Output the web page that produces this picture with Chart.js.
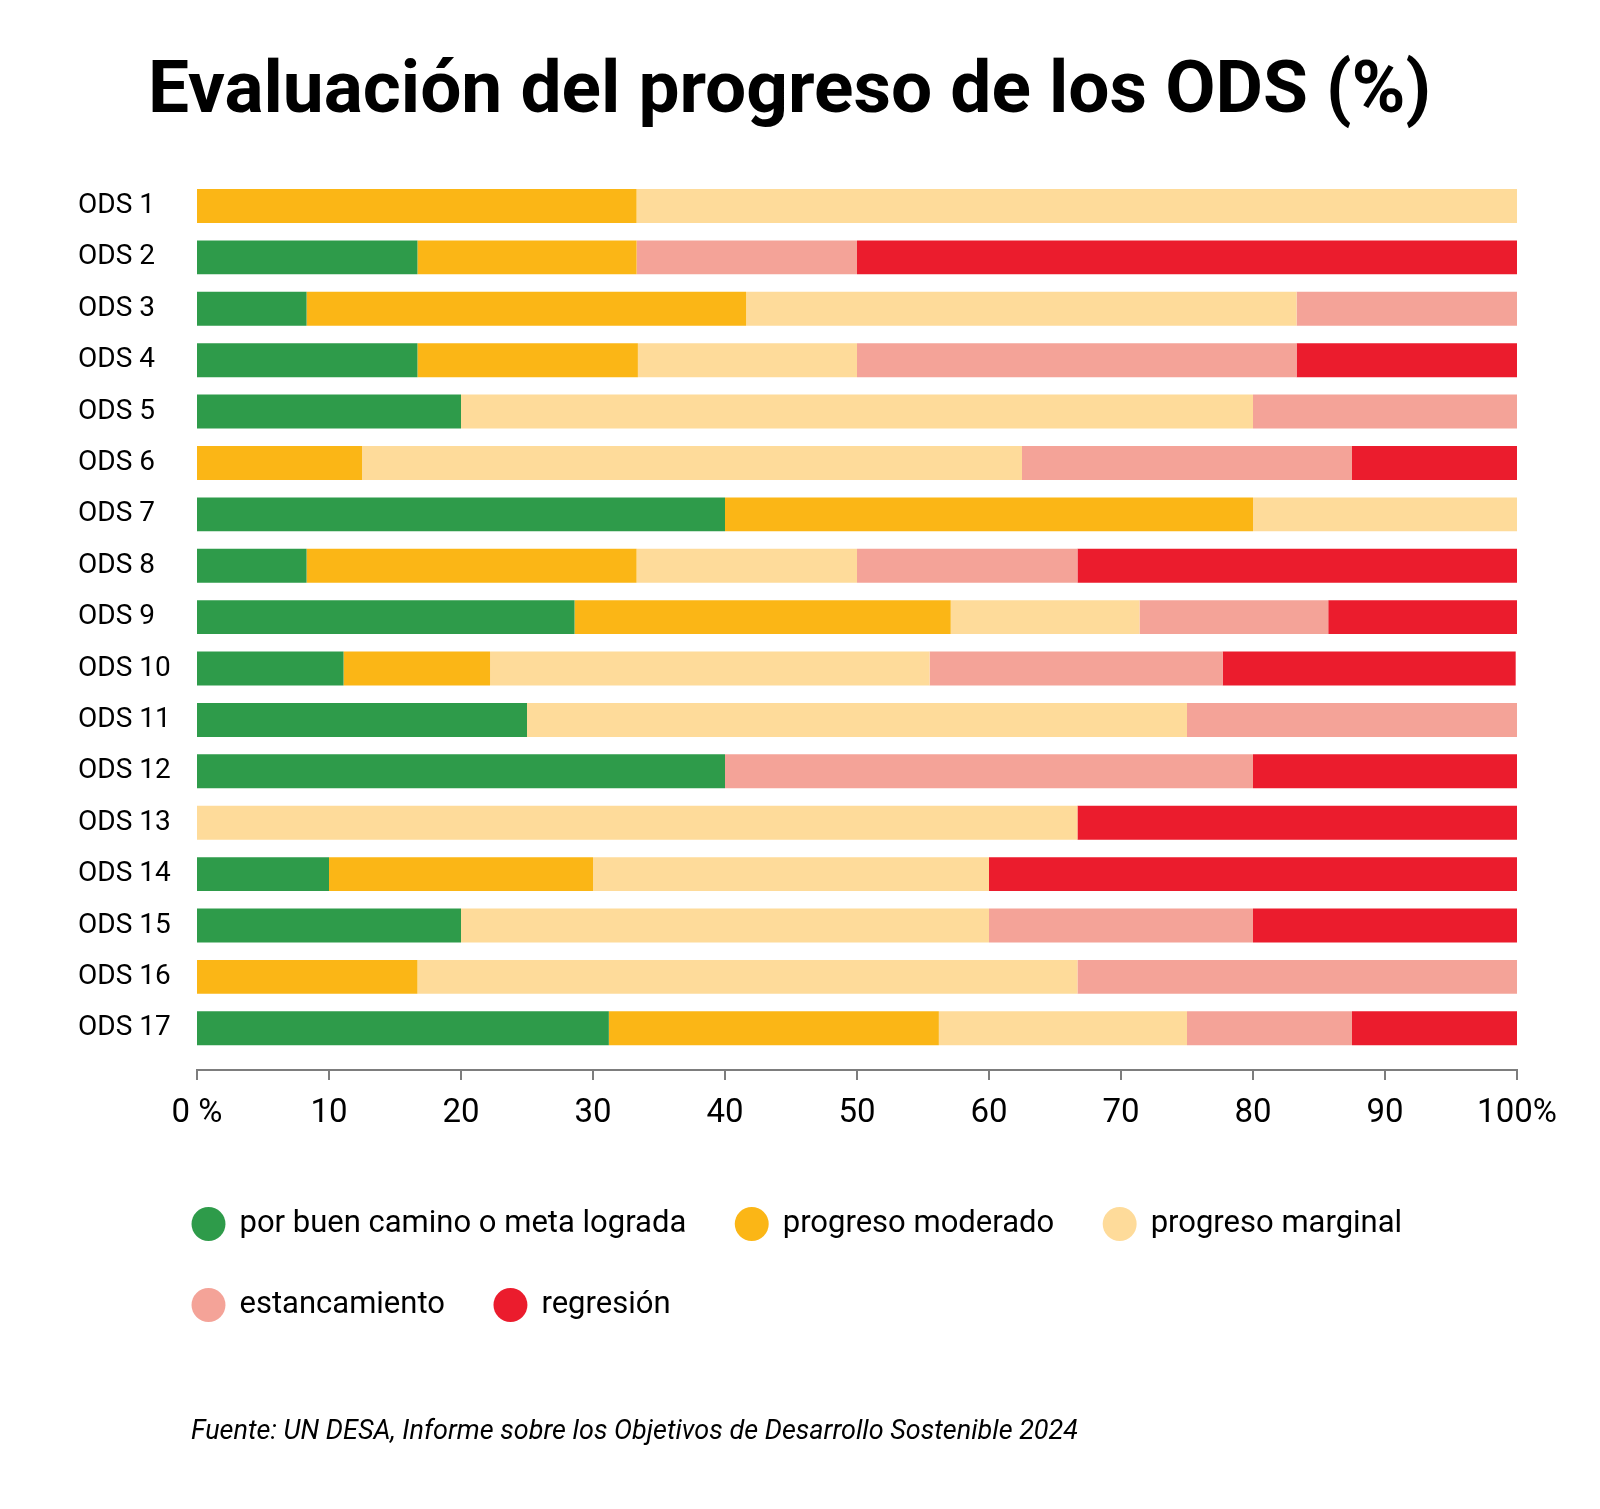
<!DOCTYPE html>
<html lang="es">
<head>
<meta charset="utf-8">
<title>Evaluación del progreso de los ODS (%)</title>
<script src="https://cdn.jsdelivr.net/npm/chart.js@4.4.1/dist/chart.umd.min.js"></script>
<style>
  html, body { margin: 0; padding: 0; background: #fff; }
  #wrap { width: 1600px; height: 1509px; position: relative; }
</style>
</head>
<body>
<div id="wrap"><canvas id="odsChart"></canvas></div>
<script>
const titleText = 'Evaluación del progreso de los ODS (%)';
const sourceText = 'Fuente: UN DESA, Informe sobre los Objetivos de Desarrollo Sostenible 2024';

const goals = ['ODS 1', 'ODS 2', 'ODS 3', 'ODS 4', 'ODS 5', 'ODS 6', 'ODS 7', 'ODS 8', 'ODS 9',
  'ODS 10', 'ODS 11', 'ODS 12', 'ODS 13', 'ODS 14', 'ODS 15', 'ODS 16', 'ODS 17'];

const seriesNames = ['por buen camino o meta lograda', 'progreso moderado', 'progreso marginal',
  'estancamiento', 'regresión'];
const seriesColors = ['#2e9b4a', '#fbb616', '#fedb9a', '#f4a398', '#eb1c2d'];

// % de metas en cada categoria, por ODS
const onTrack    = [0, 16.7, 8.3, 16.7, 20, 0, 40, 8.3, 28.6, 11.1, 25, 40, 0, 10, 20, 0, 31.2];
const moderate   = [33.3, 16.6, 33.3, 16.7, 0, 12.5, 40, 25, 28.5, 11.1, 0, 0, 0, 20, 0, 16.7, 25];
const marginal   = [66.7, 0, 41.7, 16.6, 60, 50, 20, 16.7, 14.3, 33.3, 50, 0, 66.7, 30, 40, 50, 18.8];
const stagnation = [0, 16.7, 16.7, 33.3, 20, 25, 0, 16.7, 14.3, 22.2, 25, 40, 0, 0, 20, 33.3, 12.5];
const regression = [0, 50, 0, 16.7, 0, 12.5, 0, 33.3, 14.3, 22.2, 0, 20, 33.3, 40, 20, 0, 12.5];

const xTickLabels = ['0 %', '10', '20', '30', '40', '50', '60', '70', '80', '90', '100%'];

const allSeries = [onTrack, moderate, marginal, stagnation, regression];

// linea del eje x, algo separada del area de barras
const axisLine = {
  id: 'axisLine',
  afterDraw(chart) {
    const { ctx, chartArea, scales: { x } } = chart;
    const y = chartArea.bottom + 16;
    ctx.save();
    ctx.strokeStyle = '#7d7d7d';
    ctx.lineWidth = 2;
    ctx.beginPath();
    ctx.moveTo(x.left, y);
    ctx.lineTo(x.right, y);
    x.ticks.forEach((t) => {
      const px = x.getPixelForValue(t.value);
      ctx.moveTo(px, y - 1);
      ctx.lineTo(px, y + 10);
    });
    ctx.stroke();
    ctx.restore();
  }
};

// leyenda y fuente alineadas con el inicio de las barras
const shiftBoxes = {
  id: 'shiftBoxes',
  afterLayout(chart) {
    const move = (box, dx) => { if (box) { box.left += dx; box.right += dx; } };
    move(chart.legend, 65);
    move(chart.titleBlock, -8);
    const sub = chart.boxes.find((b) => b !== chart.titleBlock && b.options && b.options.text === sourceText);
    move(sub, 113);
  }
};

const ctx = document.getElementById('odsChart').getContext('2d');

new Chart(ctx, {
  type: 'bar',
  data: {
    labels: goals,
    datasets: allSeries.map((values, i) => ({
      label: seriesNames[i],
      data: values,
      backgroundColor: seriesColors[i],
      borderWidth: 0,
      barPercentage: 0.66,
      categoryPercentage: 1
    }))
  },
  options: {
    indexAxis: 'y',
    responsive: true,
    maintainAspectRatio: false,
    animation: false,
    layout: { padding: { left: 78, right: 83, top: 0, bottom: 0 } },
    scales: {
      x: {
        stacked: true,
        min: 0,
        max: 100,
        grid: { display: false, drawTicks: false },
        border: { display: false },
        ticks: {
          stepSize: 10,
          padding: 40,
          color: '#000',
          font: { family: 'Roboto', size: 33 },
          maxRotation: 0,
          callback: (v, i) => xTickLabels[i]
        },
        afterFit: (scale) => { scale.height = 104.5; }
      },
      y: {
        stacked: true,
        grid: { display: false },
        border: { display: false },
        ticks: {
          crossAlign: 'far',
          color: '#000',
          font: { family: 'Roboto', size: 28 }
        },
        afterFit: (scale) => { scale.width = 119; }
      }
    },
    plugins: {
      title: {
        display: true,
        text: titleText,
        color: '#000',
        font: { family: 'Roboto', size: 73, weight: 'bold' },
        padding: { top: 49.5, bottom: 43.2 }
      },
      subtitle: {
        display: true,
        text: sourceText,
        position: 'bottom',
        align: 'start',
        color: '#000',
        font: { family: 'Roboto', size: 27, style: 'italic' },
        padding: { top: 85.3, bottom: 60.8 }
      },
      legend: {
        position: 'bottom',
        align: 'start',
        labels: {
          usePointStyle: true,
          pointStyle: 'circle',
          boxWidth: 31,
          boxHeight: 24,
          padding: 50,
          color: '#000',
          font: { family: 'Roboto', size: 31 }
        }
      },
      tooltip: { enabled: false }
    }
  },
  plugins: [axisLine, shiftBoxes]
});
</script>
</body>
</html>
